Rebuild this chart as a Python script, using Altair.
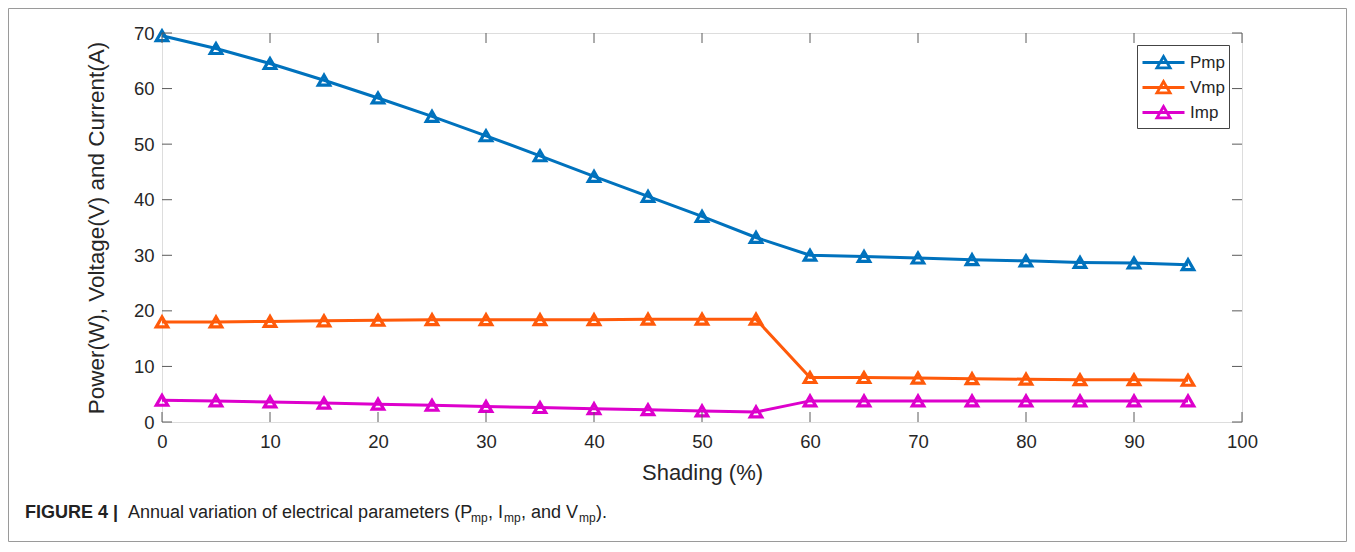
import altair as alt
import pandas as pd

shading = [0, 5, 10, 15, 20, 25, 30, 35, 40, 45, 50, 55, 60, 65, 70, 75, 80, 85, 90, 95]
pmp = [69.5, 67.2, 64.5, 61.5, 58.3, 55.0, 51.5, 47.9, 44.2, 40.6, 37.0, 33.2, 30.0, 29.8, 29.5, 29.2, 29.0, 28.7, 28.6, 28.3]
vmp = [18.0, 18.0, 18.1, 18.2, 18.3, 18.4, 18.4, 18.4, 18.4, 18.5, 18.5, 18.5, 8.0, 8.0, 7.9, 7.8, 7.7, 7.6, 7.6, 7.5]
imp = [3.9, 3.8, 3.6, 3.4, 3.2, 3.0, 2.8, 2.6, 2.4, 2.2, 2.0, 1.8, 3.8, 3.8, 3.8, 3.8, 3.8, 3.8, 3.8, 3.8]
series_names = ["Pmp", "Vmp", "Imp"]
series_colors = ["#0072BD", "#FF5A0A", "#DD00CC"]
x_ticks = [0, 10, 20, 30, 40, 50, 60, 70, 80, 90, 100]
y_ticks = [0, 10, 20, 30, 40, 50, 60, 70]

W, H = 1080, 389
PL, PT, PR, PB = 154, 25, 105, 120

rows = []
for name, vals in zip(series_names, [pmp, vmp, imp]):
    for s, v in zip(shading, vals):
        rows.append({"Shading": s, "Value": v, "Series": name})
df = pd.DataFrame(rows)

FONT = "Liberation Sans"
LABEL_COLOR = "#262626"
FRAME = "#5a5a5a"

x_scale = alt.Scale(domain=[0, 100], nice=False)
y_scale = alt.Scale(domain=[0, 70], nice=False)

leg_path = "M-1.75,0L1.75,0M-0.55,0.45L0,-0.5L0.55,0.45Z"

lines = alt.Chart(df).mark_line(
    strokeWidth=3,
    point=alt.OverlayMarkDef(shape="triangle-up", filled=False, size=130, strokeWidth=3.2),
).encode(
    x=alt.X("Shading:Q", scale=x_scale,
            axis=alt.Axis(values=x_ticks, title="Shading (%)", grid=False, domain=False, ticks=False,
                          labelFontSize=18.5, labelColor=LABEL_COLOR, labelPadding=10, labelFont=FONT,
                          titleFont=FONT, titleFontSize=22, titleFontWeight="normal", titleColor=LABEL_COLOR,
                          titlePadding=12, labelFlush=False)),
    y=alt.Y("Value:Q", scale=y_scale,
            axis=alt.Axis(values=y_ticks, title="Power(W), Voltage(V) and Current(A)", grid=False, domain=False,
                          ticks=False, labelFontSize=18.5, labelColor=LABEL_COLOR, labelPadding=8, labelFont=FONT,
                          titleFont=FONT, titleFontSize=22.5, titleFontWeight="normal", titleColor=LABEL_COLOR,
                          titlePadding=25, labelFlush=False)),
    color=alt.Color("Series:N",
                    scale=alt.Scale(domain=series_names, range=series_colors),
                    sort=series_names,
                    legend=alt.Legend(title=None, orient="none", legendX=975, legendY=12,
                                      symbolType=leg_path, symbolSize=576, symbolStrokeWidth=2.8,
                                      symbolOffset=9, labelOffset=13,
                                      labelFont=FONT, labelFontSize=17, labelColor=LABEL_COLOR,
                                      strokeColor="#444", fillColor="white", padding=4, rowPadding=0,
                                      cornerRadius=0)),
)

tx = pd.DataFrame({"t": x_ticks})
ty = pd.DataFrame({"t": y_ticks})
tick_style = dict(color=FRAME, strokeWidth=1)
xt_bottom = alt.Chart(tx).mark_rule(**tick_style).encode(
    x=alt.X("t:Q", scale=x_scale), y=alt.value(H), y2=alt.value(H - 10))
xt_top = alt.Chart(tx).mark_rule(**tick_style).encode(
    x=alt.X("t:Q", scale=x_scale), y=alt.value(0), y2=alt.value(10))
yt_left = alt.Chart(ty).mark_rule(**tick_style).encode(
    y=alt.Y("t:Q", scale=y_scale), x=alt.value(0), x2=alt.value(10))
yt_right = alt.Chart(ty).mark_rule(**tick_style).encode(
    y=alt.Y("t:Q", scale=y_scale), x=alt.value(W - 10), x2=alt.value(W))

outer = alt.Chart(pd.DataFrame({"a": [0]})).mark_rect(
    fill=None, stroke="#9a9a9a", strokeWidth=1
).encode(x=alt.value(-PL + 0.5), x2=alt.value(W + PR - 0.5), y=alt.value(-PT + 0.5), y2=alt.value(H + PB - 0.5))

CAP_FONT = "Liberation Sans"
cap_y = 485
caption_parts = [
    ("FIGURE 4 |", -137, 0, 18, "bold"),
    ("Annual variation of electrical parameters (P", -34, 0, 18, "normal"),
    ("mp", 309, 4, 12, "normal"),
    (", I", 326, 0, 18, "normal"),
    ("mp", 342, 4, 12, "normal"),
    (", and V", 359, 0, 18, "normal"),
    ("mp", 417, 4, 12, "normal"),
    (").", 434, 0, 18, "normal"),
]
cap_layers = []
for txt, xx, dy, fs, fw in caption_parts:
    cap_layers.append(
        alt.Chart(pd.DataFrame({"t": [txt]})).mark_text(
            align="left", baseline="alphabetic", font=CAP_FONT, fontSize=fs, fontWeight=fw,
            color="#222222", dy=dy
        ).encode(text="t:N", x=alt.value(xx), y=alt.value(cap_y))
    )

chart = alt.layer(outer, lines, xt_bottom, xt_top, yt_left, yt_right, *cap_layers).properties(
    width=W, height=H,
    padding={"left": PL, "top": PT, "right": PR, "bottom": PB},
    autosize=alt.AutoSizeParams(type="none"),
).configure_view(stroke=FRAME, strokeWidth=1).configure(background="white")

chart.save("out.html", embed_options={"renderer": "svg", "actions": False})
